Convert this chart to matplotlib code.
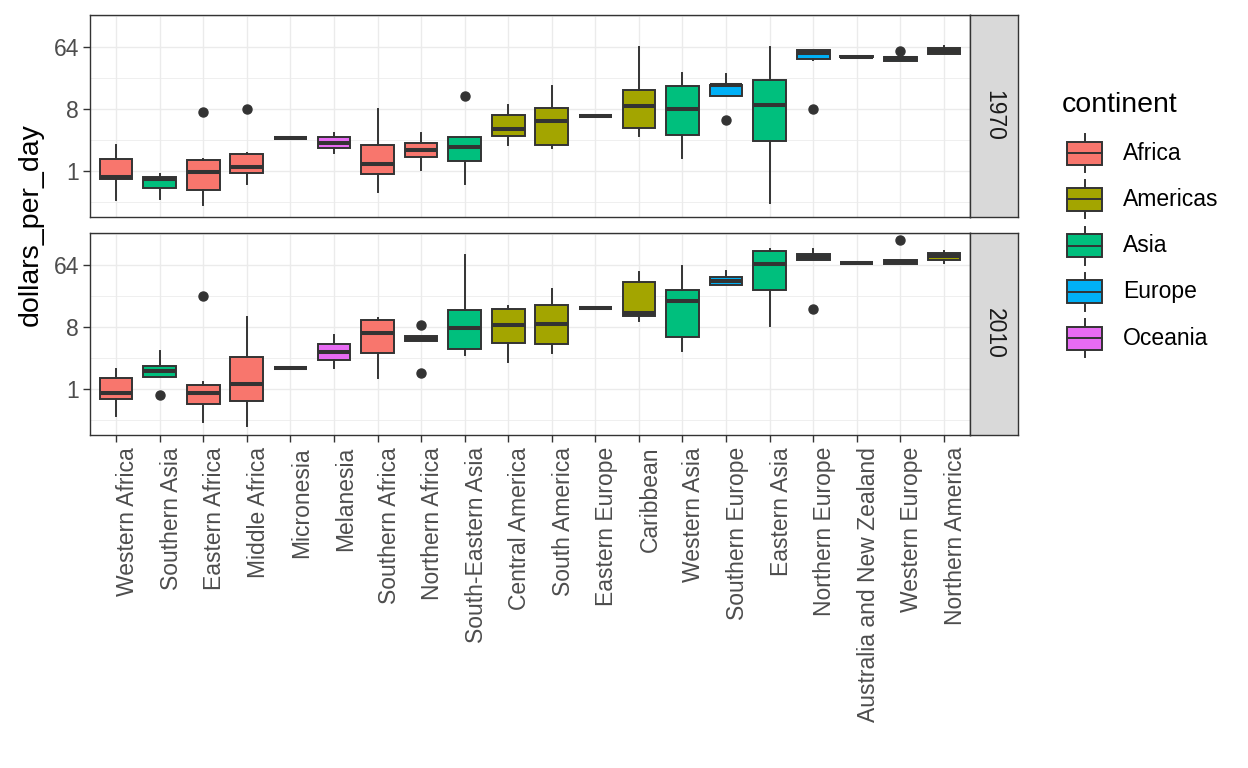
import matplotlib
matplotlib.use("Agg")
import matplotlib.pyplot as plt
from matplotlib.patches import Rectangle
from matplotlib.ticker import FixedLocator, NullFormatter, FixedFormatter
import numpy as np

plt.rcParams['font.family'] = ['Liberation Sans', 'DejaVu Sans']

regions = ["Western Africa", "Southern Asia", "Eastern Africa", "Middle Africa",
           "Micronesia", "Melanesia", "Southern Africa", "Northern Africa",
           "South-Eastern Asia", "Central America", "South America", "Eastern Europe",
           "Caribbean", "Western Asia", "Southern Europe", "Eastern Asia",
           "Northern Europe", "Australia and New Zealand", "Western Europe",
           "Northern America"]
region_continent = ["Africa", "Asia", "Africa", "Africa", "Oceania", "Oceania",
                    "Africa", "Africa", "Asia", "Americas", "Americas", "Europe",
                    "Americas", "Asia", "Europe", "Asia", "Europe", "Oceania",
                    "Europe", "Americas"]
continents = ["Africa", "Americas", "Asia", "Europe", "Oceania"]
continent_colors = ["#F8766D", "#A3A500", "#00BF7D", "#00B0F6", "#E76BF3"]
years = ["1970", "2010"]

# dollars_per_day box statistics per region
whislo_1970 = [0.38, 0.39, 0.32, 0.64, 3.05, 1.83, 0.50, 1.02, 0.65, 2.38,
               2.13, 6.35, 3.23, 1.56, 12.1, 0.34, 41.1, 45.4, 39.7, 50.6]
q1_1970     = [0.76, 0.57, 0.52, 0.93, 3.05, 2.16, 0.91, 1.57, 1.39, 3.25,
               2.36, 6.35, 4.20, 3.32, 12.1, 2.69, 42.5, 45.4, 39.7, 50.6]
med_1970    = [0.82, 0.76, 0.95, 1.13, 3.05, 2.58, 1.28, 1.99, 2.19, 4.11,
               5.24, 6.35, 8.75, 8.00, 17.5, 9.19, 50.9, 45.9, 43.1, 55.7]
q3_1970     = [1.49, 0.82, 1.43, 1.74, 3.05, 3.10, 2.36, 2.51, 3.07, 6.41,
               8.17, 6.35, 15.2, 17.4, 17.9, 20.7, 58.1, 46.5, 45.9, 60.5]
whishi_1970 = [2.36, 0.91, 1.49, 1.83, 3.05, 3.61, 8.00, 3.61, 3.07, 9.19,
               17.3, 6.35, 62.2, 26.9, 25.3, 62.2, 58.1, 46.5, 45.9, 65.8]
fliers_1970 = [[], [], [7.16], [7.94], [], [], [], [], [12.1], [],
               [], [], [], [], [5.43], [], [7.94], [], [54.9], []]

whislo_2010 = [0.40, 1.48, 0.33, 0.29, 1.99, 2.03, 1.44, 4.92, 3.14, 2.48,
               3.36, 15.1, 9.85, 3.58, 32.0, 8.28, 75.1, 66.8, 65.8, 68.6]
q1_2010     = [0.71, 1.48, 0.60, 0.66, 1.99, 2.62, 3.32, 4.92, 3.81, 4.66,
               4.50, 15.1, 11.6, 5.70, 32.7, 27.7, 75.1, 66.8, 65.8, 74.0]
med_2010    = [0.88, 1.82, 0.86, 1.16, 1.99, 3.41, 6.45, 5.39, 7.62, 8.51,
               8.75, 15.1, 12.5, 18.9, 37.3, 66.3, 83.3, 67.6, 70.0, 84.4]
q3_2010     = [1.44, 2.14, 1.13, 2.91, 1.99, 4.53, 10.1, 5.90, 13.9, 14.6,
               16.3, 15.1, 36.3, 27.7, 41.9, 99.7, 91.8, 68.6, 75.1, 93.7]
whishi_2010 = [1.95, 3.56, 1.24, 11.2, 1.99, 6.10, 10.9, 5.90, 88.6, 16.0,
               28.6, 15.1, 50.6, 61.4, 52.0, 109.0, 109.0, 68.6, 75.1, 102.0]
fliers_2010 = [[], [0.82], [22.2], [], [], [], [], [8.63, 1.72], [], [],
               [], [], [], [], [], [], [14.6], [], [145.0], []]

y_breaks = [1, 8, 64]
y_break_labels = ["1", "8", "64"]

W, H = 1248, 768
fig = plt.figure(figsize=(W / 100, H / 100), dpi=100)

def fx(px):
    return px / W

def fy(py):
    return 1 - py / H

EDGE = "#333333"
GRID = "#EBEBEB"

panel_l, panel_r = 90, 970
strip_r = 1018
panels = [(14.5, 216.5), (232.5, 434.5)]
stats_by_year = [
    (whislo_1970, q1_1970, med_1970, q3_1970, whishi_1970, fliers_1970),
    (whislo_2010, q1_2010, med_2010, q3_2010, whishi_2010, fliers_2010),
]

cmap = dict(zip(continents, continent_colors))
positions = np.arange(1, len(regions) + 1)

axes = []
for i, ((top, bot), year, st) in enumerate(zip(panels, years, stats_by_year)):
    ax = fig.add_axes([fx(panel_l), fy(bot), fx(panel_r - panel_l), (bot - top) / H])
    axes.append(ax)
    lo, q1, med, q3, hi, fl = st
    stats = []
    for k in range(len(regions)):
        stats.append(dict(whislo=lo[k], q1=q1[k], med=med[k], q3=q3[k],
                          whishi=hi[k], fliers=fl[k], label=regions[k]))
    ax.set_yscale('log', base=2)
    bp = ax.bxp(stats, positions=positions, widths=0.75, patch_artist=True,
                showcaps=False, manage_ticks=False,
                boxprops=dict(edgecolor=EDGE, linewidth=1.4),
                medianprops=dict(color=EDGE, linewidth=2.9, solid_capstyle='butt'),
                whiskerprops=dict(color=EDGE, linewidth=1.4),
                flierprops=dict(marker='o', markerfacecolor=EDGE,
                                markeredgecolor=EDGE, markersize=6.5))
    for patch, cont in zip(bp['boxes'], region_continent):
        patch.set_facecolor(cmap[cont])
        patch.set_zorder(2)
    for m in bp['medians']:
        m.set_zorder(3)
    ax.set_xlim(0.4, len(regions) + 0.6)
    ax.set_ylim(2 ** -2.2, 2 ** 7.55)
    ax.yaxis.set_major_locator(FixedLocator(y_breaks))
    ax.yaxis.set_major_formatter(FixedFormatter(y_break_labels))
    ax.yaxis.set_minor_locator(FixedLocator([2 ** -1.5, 2 ** 1.5, 2 ** 4.5, 2 ** 7.5]))
    ax.yaxis.set_minor_formatter(NullFormatter())
    ax.set_xticks(positions)
    ax.set_axisbelow(True)
    ax.grid(True, which='major', axis='both', color=GRID, linewidth=1.0, zorder=0)
    ax.grid(True, which='minor', axis='y', color=GRID, linewidth=0.55, zorder=0)
    ax.tick_params(axis='both', which='major', length=5, width=1.0, color=EDGE,
                   labelsize=16.5, labelcolor="#4D4D4D", pad=3)
    ax.tick_params(axis='y', which='minor', length=0)
    for sp in ax.spines.values():
        sp.set_color(EDGE)
        sp.set_linewidth(1.0)
    if i == 0:
        ax.tick_params(axis='x', which='both', bottom=False, labelbottom=False)
    else:
        ax.set_xticklabels(regions, rotation=90, ha='left', va='top')
        ax.tick_params(axis='x', pad=4)

    # strip
    sax = fig.add_axes([fx(panel_r), fy(bot), fx(strip_r - panel_r), (bot - top) / H])
    sax.set_facecolor("#D9D9D9")
    sax.set_xticks([])
    sax.set_yticks([])
    for sp in sax.spines.values():
        sp.set_color(EDGE)
        sp.set_linewidth(1.0)
    sax.text(0.5, 0.5, year, rotation=-90, ha='center', va='center',
             fontsize=16.5, color="#1A1A1A", transform=sax.transAxes)

fig.text(fx(31), fy(225), "dollars_per_day", rotation=90, ha='center',
         va='center', fontsize=20.5, color='black')

# legend
lax = fig.add_axes([0, 0, 1, 1], facecolor='none')
lax.set_xlim(0, W)
lax.set_ylim(H, 0)
lax.axis('off')
lax.text(1062, 105, "continent", ha='left', va='center', fontsize=20.5, color='black')
key_y0, key_dy = 153, 46.3
for j, (cont, col) in enumerate(zip(continents, continent_colors)):
    cy = key_y0 + j * key_dy
    lax.add_patch(Rectangle((1067, cy - 11.5), 35, 23, facecolor=col,
                            edgecolor=EDGE, linewidth=1.4, zorder=3))
    lax.plot([1067, 1102], [cy, cy], color=EDGE, linewidth=1.4, zorder=4)
    lax.plot([1084.5, 1084.5], [cy - 19, cy - 11.5], color=EDGE, linewidth=1.4)
    lax.plot([1084.5, 1084.5], [cy + 11.5, cy + 19], color=EDGE, linewidth=1.4)
    lax.text(1123, cy, cont, ha='left', va='center', fontsize=16.5, color='black')

fig.savefig("out.png", dpi=100)
